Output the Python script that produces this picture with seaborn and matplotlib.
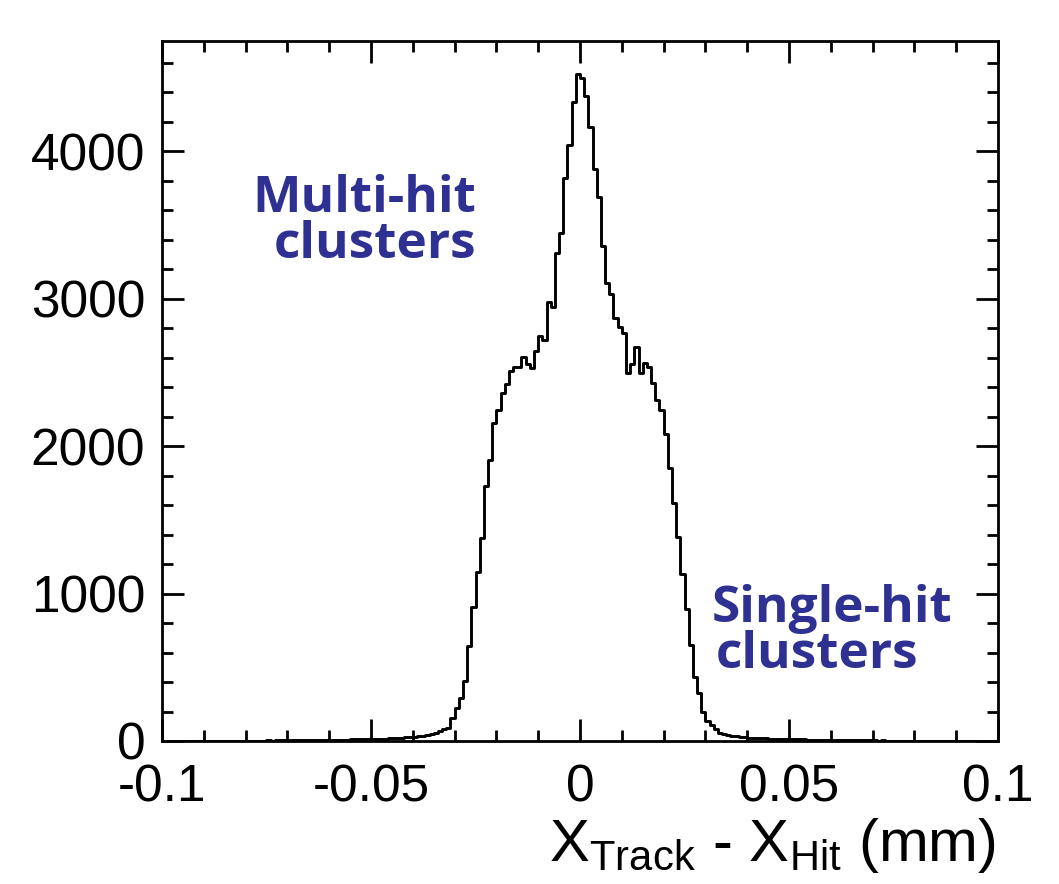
import numpy as np
import pandas as pd
import matplotlib
matplotlib.use("Agg")
import matplotlib.pyplot as plt
from matplotlib.ticker import MultipleLocator, FixedLocator
import seaborn as sns

# ---- data: 200 bins of width 0.001 mm from -0.1 to 0.1 ----
bin_lo = -0.1
bin_hi = 0.1
n_bins = 200

counts_far_left = [0, 1, 0, 0, 1, 0, 2, 0, 1, 1,
                   0, 2, 1, 1, 2, 1, 2, 2, 1, 3,
                   2, 3, 2, 3, 3, 4, 3, 4, 4, 5]          # bins -100 .. -71
counts_left_tail = [4, 5, 5, 6, 5, 6, 7, 6, 7, 8, 8, 9, 10, 9, 10,
                    11, 12, 12, 13, 13, 14, 14, 15, 16,
                    17, 18, 20, 22, 24, 26, 28, 31,
                    35, 42, 48, 55, 70, 82, 90]            # bins -70 .. -32
counts_core = [154, 225, 294, 405, 642, 911, 1148, 1378, 1729, 1905,
               2156, 2242, 2359, 2422, 2509, 2533, 2533, 2601, 2556, 2527,
               2646, 2746, 2719, 2978, 2944, 3306, 3442, 3815, 4041, 4330,
               4520, 4493, 4375, 4165, 3878, 3686, 3356, 3107, 3028, 2866,
               2809, 2768, 2497, 2556, 2669, 2493, 2561, 2533, 2429, 2312,
               2243, 2079, 1853, 1616, 1384, 1132, 893, 651, 436, 323,
               199, 138, 108, 79, 56, 45, 41, 36, 32, 28]  # bins -31 .. 38
counts_right_tail = [25, 22, 20, 19, 18, 17, 16, 15, 14, 13,
                     13, 12, 12, 11, 11, 10, 10, 9, 9, 8,
                     8, 7, 7, 6, 6, 6, 5, 5, 5, 4,
                     4, 4, 3, 4, 3, 3, 2, 3, 2, 2,
                     2, 1, 2, 1, 1, 2, 1, 0, 1, 1,
                     0, 1, 0, 1, 0, 0, 1, 0, 0, 0,
                     1]                                     # bins 39 .. 99

counts = counts_far_left + counts_left_tail + counts_core + counts_right_tail

x_ticks = [-0.1, -0.05, 0.0, 0.05, 0.1]
x_tick_labels = ["-0.1", "-0.05", "0", "0.05", "0.1"]
y_ticks = [0, 1000, 2000, 3000, 4000]
y_tick_labels = ["0", "1000", "2000", "3000", "4000"]

label_multi = ["Multi-hit", "clusters"]
label_single = ["Single-hit", "clusters"]
x_title = r"X$_{\mathregular{Track}}$ - X$_{\mathregular{Hit}}$ (mm)"

edges = np.linspace(bin_lo, bin_hi, n_bins + 1)
centers = 0.5 * (edges[:-1] + edges[1:])
df = pd.DataFrame({"x": centers, "w": np.asarray(counts, dtype=float)})

# ---- style ----
sns.set_style("ticks")
plt.rcParams["font.family"] = ["Liberation Sans", "DejaVu Sans"]
plt.rcParams["axes.unicode_minus"] = False
plt.rcParams["mathtext.default"] = "regular"

fig = plt.figure(figsize=(10.59, 8.84), dpi=100)
ax = fig.add_axes([162 / 1059, 1 - 741 / 884, (998 - 162) / 1059, (741 - 41) / 884])

sns.histplot(data=df, x="x", weights="w", bins=n_bins, binrange=(bin_lo, bin_hi),
             element="step", fill=False, color="black", linewidth=2.1, ax=ax)

ax.set_xlim(bin_lo, bin_hi)
ax.set_ylim(0, max(counts) * 1.05)

ax.xaxis.set_major_locator(FixedLocator(x_ticks))
ax.set_xticklabels(x_tick_labels)
ax.xaxis.set_minor_locator(MultipleLocator(0.01))
ax.yaxis.set_major_locator(FixedLocator(y_ticks))
ax.set_yticklabels(y_tick_labels)
ax.yaxis.set_minor_locator(MultipleLocator(200))

ax.tick_params(which="both", direction="in", top=True, right=True,
               width=2.0, colors="black", labelsize=37)
ax.tick_params(which="major", length=16)
ax.tick_params(which="minor", length=8)
ax.tick_params(axis="x", which="major", pad=16)
ax.tick_params(axis="y", which="major", pad=12)
for s in ax.spines.values():
    s.set_linewidth(2.0)
    s.set_color("black")
    s.set_visible(True)

ax.set_xlabel("")
ax.set_ylabel("")

fig.text(996 / 1059, 1 - 861 / 884, x_title, ha="right", va="baseline",
         fontsize=43, color="black")

blue = "#2E3192"
tfont = dict(family=["Open Sans", "DejaVu Sans"], weight="bold", fontsize=37, color=blue)
fig.text(476 / 1059, 1 - 212 / 884, label_multi[0], ha="right", va="baseline", **tfont)
fig.text(476 / 1059, 1 - 258 / 884, label_multi[1], ha="right", va="baseline", **tfont)
fig.text(712 / 1059, 1 - 622 / 884, label_single[0], ha="left", va="baseline", **tfont)
fig.text(716 / 1059, 1 - 668 / 884, label_single[1], ha="left", va="baseline", **tfont)

fig.savefig("out.png", dpi=100)
